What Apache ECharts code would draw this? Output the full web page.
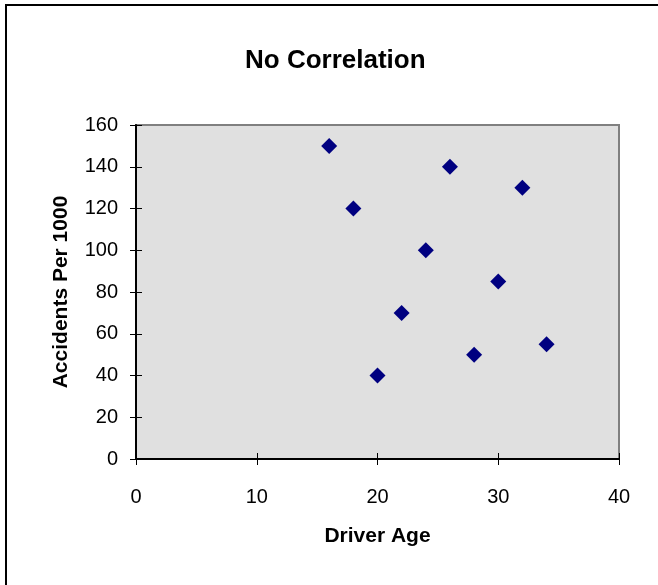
<!DOCTYPE html>
<html><head><meta charset="utf-8">
<script src="https://cdn.jsdelivr.net/npm/echarts@6/dist/echarts.min.js"></script>
<style>html,body{margin:0;padding:0;background:#fff}#c{width:658px;height:585px}</style>
</head><body><div id="c"></div>
<script>
const driverAge = [16, 18, 20, 22, 24, 26, 28, 30, 32, 34];
const accidentsPer1000 = [150, 120, 40, 70, 100, 140, 50, 85, 130, 55];
const chartTitle = 'No Correlation';
const xTitle = 'Driver Age';
const yTitle = 'Accidents Per 1000';

const points = driverAge.map((a, i) => [a, accidentsPer1000[i]]);
const font = 'Liberation Sans, Arial, sans-serif';
const chart = echarts.init(document.getElementById('c'));
chart.setOption({
  animation: false,
  backgroundColor: '#fff',
  title: {text: chartTitle, left: 240, top: 43,
    textStyle: {fontFamily: font, fontSize: 26, fontWeight: 'bold', color: '#000'}},
  graphic: [{type: 'rect', shape: {x: 6, y: 5, width: 800, height: 800},
    style: {fill: 'none', stroke: '#000', lineWidth: 2}, silent: true}],
  grid: {left: 136, top: 125, right: 39, bottom: 126, show: true,
    backgroundColor: '#e0e0e0', borderColor: '#808080', borderWidth: 2},
  xAxis: [{type: 'value', min: 0, max: 40, interval: 10,
    name: xTitle, nameLocation: 'middle', nameGap: 67,
    nameTextStyle: {fontFamily: font, fontSize: 21, fontWeight: 'bold', color: '#000'},
    axisLine: {show: true, lineStyle: {color: '#000', width: 2}},
    axisTick: {show: true, length: 6, lineStyle: {color: '#000'}},
    axisLabel: {fontFamily: font, fontSize: 20, color: '#000', margin: 28},
    splitLine: {show: false}},
    {type: 'value', min: 0, max: 40, interval: 10, position: 'bottom',
    axisLine: {show: false}, axisTick: {show: true, inside: true, length: 6, lineStyle: {color: '#000'}},
    axisLabel: {show: false}, splitLine: {show: false}}],
  yAxis: [{type: 'value', min: 0, max: 160, interval: 20,
    name: yTitle, nameLocation: 'middle', nameGap: 64,
    nameTextStyle: {fontFamily: font, fontSize: 21, fontWeight: 'bold', color: '#000'},
    axisLine: {show: true, lineStyle: {color: '#000', width: 2}},
    axisTick: {show: true, length: 6, lineStyle: {color: '#000'}},
    axisLabel: {fontFamily: font, fontSize: 20, color: '#000', margin: 18},
    splitLine: {show: false}},
    {type: 'value', min: 0, max: 160, interval: 20, position: 'left',
    axisLine: {show: false}, axisTick: {show: true, inside: true, length: 6, lineStyle: {color: '#000'}},
    axisLabel: {show: false}, splitLine: {show: false}}],
  series: [{type: 'scatter', data: points, symbol: 'diamond', symbolSize: 16,
    itemStyle: {color: '#000080', opacity: 1}}]
});
</script></body></html>
